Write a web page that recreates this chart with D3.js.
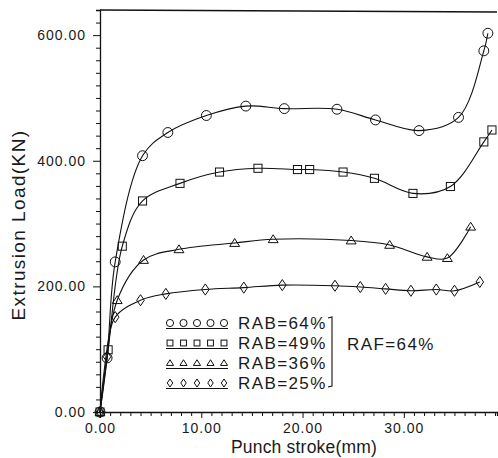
<!DOCTYPE html>
<html>
<head>
<meta charset="utf-8">
<script src="https://cdn.jsdelivr.net/npm/d3@7"></script>
<style>
  html, body { margin: 0; padding: 0; background: #fff; }
  svg { display: block; }
  text { font-family: "Liberation Sans", Arial, sans-serif; fill: #1a1a1a; }
</style>
</head>
<body>
<svg id="chart" width="498" height="458"></svg>
<script>
// Extrusion load vs punch stroke, RAF = 64%, four RAB levels
const strokeRAB64 = [0, 0.7, 1.5, 4.2, 6.7, 10.5, 14.4, 18.2, 23.4, 27.2, 31.5, 35.4, 37.9, 38.3];
const loadRAB64   = [0, 86, 239, 408, 445, 472, 487, 483, 482, 465, 448, 469, 575, 603];

const strokeRAB49 = [0, 0.8, 2.2, 4.2, 7.9, 11.8, 15.6, 19.5, 20.7, 24.0, 27.1, 30.9, 34.6, 37.9, 38.7];
const loadRAB49   = [0, 99, 264, 336, 364, 382, 388, 386, 386, 382, 372, 348, 359, 430, 449];

const strokeRAB36 = [0, 1.7, 4.3, 7.8, 13.3, 17.1, 24.8, 28.6, 32.3, 34.3, 36.6];
const loadRAB36   = [0, 178, 242, 259, 269, 275, 273, 266, 247, 245, 295];

const strokeRAB25 = [0, 0.7, 1.5, 4.0, 6.5, 10.4, 14.2, 18.0, 23.2, 25.7, 28.2, 30.7, 33.2, 35.0, 37.5];
const loadRAB25   = [0, 88, 151, 178, 188, 195, 198, 202, 201, 199, 196, 193, 195, 193, 207];

const seriesNames = ["RAB=64%", "RAB=49%", "RAB=36%", "RAB=25%"];
const seriesSymbols = ["circle", "square", "triangle", "diamond"];
const groupLabel = "RAF=64%";

const xTickLabels = ["0.00", "10.00", "20.00", "30.00"];
const yTickLabels = ["0.00", "200.00", "400.00", "600.00"];
const xTitle = "Punch stroke(mm)";
const yTitle = "Extrusion Load(KN)";

(function draw() {
  const series = [
    { name: seriesNames[0], sym: seriesSymbols[0], x: strokeRAB64, y: loadRAB64 },
    { name: seriesNames[1], sym: seriesSymbols[1], x: strokeRAB49, y: loadRAB49 },
    { name: seriesNames[2], sym: seriesSymbols[2], x: strokeRAB36, y: loadRAB36 },
    { name: seriesNames[3], sym: seriesSymbols[3], x: strokeRAB25, y: loadRAB25 }
  ];

  const svg = d3.select("#chart");
  const pL = 100, pR = 497, pT = 10, pB = 412;

  const x = d3.scaleLinear().domain([0, 39.2]).range([pL, pR]);
  const y = d3.scaleLinear().domain([0, 640]).range([pB, pT]);

  const ink = "#111";

  // marker shapes
  function marker(g, sym, cx, cy, s) {
    if (sym === "circle") {
      g.append("circle").attr("cx", cx).attr("cy", cy).attr("r", s * 0.55);
    } else if (sym === "square") {
      g.append("rect").attr("x", cx - s * 0.45).attr("y", cy - s * 0.45)
        .attr("width", s * 0.9).attr("height", s * 0.9);
    } else if (sym === "triangle") {
      const h = s * 0.5;
      g.append("path").attr("d", `M${cx},${cy - h}L${cx + h * 1.1},${cy + h * 0.75}L${cx - h * 1.1},${cy + h * 0.75}Z`);
    } else {
      const w = s * 0.42, h = s * 0.62;
      g.append("path").attr("d", `M${cx},${cy - h}L${cx + w},${cy}L${cx},${cy + h}L${cx - w},${cy}Z`);
    }
  }

  // frame: top border line
  svg.append("line").attr("x1", pL).attr("x2", pR).attr("y1", pT).attr("y2", pT + 2)
    .attr("stroke", ink).attr("stroke-width", 1.3);

  // y axis: minor ticks every 20 kN, labelled every 200 kN
  const yAxis = d3.axisLeft(y)
    .tickValues(d3.range(0, 641, 20))
    .tickSize(4)
    .tickFormat(d => (d % 200 === 0 ? yTickLabels[d / 200] : ""));
  const gy = svg.append("g").attr("transform", `translate(${pL},0)`).call(yAxis);
  gy.select(".domain").attr("stroke", ink).attr("stroke-width", 1.3);
  gy.selectAll(".tick line").attr("stroke", ink).attr("stroke-width", 1)
    .attr("x2", d => (d % 200 === 0 ? -7 : -4));
  gy.selectAll(".tick text")
    .attr("x", -14)
    .style("font-size", "14px").style("letter-spacing", "1px").attr("fill", ink);

  // x axis: ticks every 1 mm, labelled every 10 mm
  const xAxis = d3.axisBottom(x)
    .tickValues(d3.range(0, 40, 1))
    .tickSize(4)
    .tickFormat(d => (d % 10 === 0 ? xTickLabels[d / 10] : ""));
  const gx = svg.append("g").attr("transform", `translate(0,${pB})`).call(xAxis);
  gx.select(".domain").attr("stroke", ink).attr("stroke-width", 1.3);
  gx.selectAll(".tick line").attr("stroke", ink).attr("stroke-width", 1)
    .attr("y2", d => (d % 10 === 0 ? 6 : 4));
  gx.selectAll(".tick text")
    .attr("y", 11)
    .style("font-size", "14px").style("letter-spacing", "1px").attr("fill", ink);

  // axis titles
  svg.append("text").attr("x", 304).attr("y", 453).attr("text-anchor", "middle")
    .style("font-size", "17.5px").style("letter-spacing", "0.2px").text(xTitle);
  svg.append("text").attr("transform", "translate(25,225) rotate(-90)").attr("text-anchor", "middle")
    .style("font-size", "19px").style("letter-spacing", "1.4px").text(yTitle);

  // curves and markers
  const line = d3.line()
    .x(d => x(d[0])).y(d => y(d[1]))
    .curve(d3.curveCatmullRom.alpha(0.5));

  series.forEach(s => {
    const pts = s.x.map((v, i) => [v, s.y[i]]);
    svg.append("path").datum(pts).attr("d", line)
      .attr("fill", "none").attr("stroke", ink).attr("stroke-width", 1.1);
    const g = svg.append("g").attr("fill", "none").attr("stroke", ink).attr("stroke-width", 1);
    pts.forEach(p => marker(g, s.sym, x(p[0]), y(p[1]), 9));
  });

  // legend
  const legRowY = d3.scaleLinear().domain([0, 3]).range([323, 383]);
  const legX0 = 166, legX1 = 228;
  series.forEach((s, i) => {
    const cy = legRowY(i);
    const g = svg.append("g").attr("fill", "none").attr("stroke", ink).attr("stroke-width", 1);
    d3.range(5).forEach(k => {
      marker(g, s.sym, legX0 + 4 + k * ((legX1 - legX0 - 8) / 4), cy, 6.5);
    });
    svg.append("line").attr("x1", legX0).attr("x2", legX1).attr("y1", cy + 5.5).attr("y2", cy + 5.5)
      .attr("stroke", ink).attr("stroke-width", 1.2);
    svg.append("text").attr("x", 238).attr("y", cy + 6)
      .style("font-size", "17px").style("letter-spacing", "1.4px").text(s.name);
  });

  // bracket grouping the four RAB levels
  const bx = 332;
  svg.append("path")
    .attr("d", `M${bx - 4},${legRowY(0) - 5}L${bx},${legRowY(0) - 6}L${bx},${legRowY(3) + 3}L${bx - 4},${legRowY(3) + 4}`)
    .attr("fill", "none").attr("stroke", ink).attr("stroke-width", 1.1);
  svg.append("text").attr("x", 347).attr("y", 350)
    .style("font-size", "17px").style("letter-spacing", "1.4px").text(groupLabel);
})();
</script>
</body>
</html>
